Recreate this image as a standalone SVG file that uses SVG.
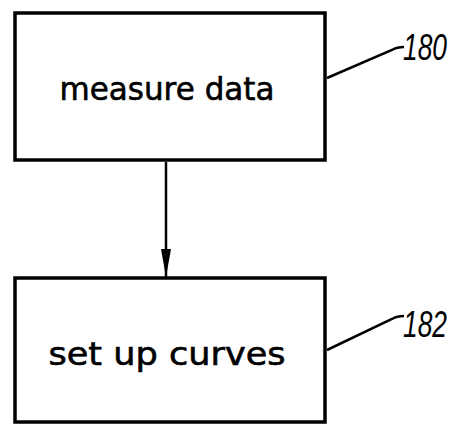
<svg xmlns="http://www.w3.org/2000/svg" width="464" height="424" viewBox="0 0 464 424">
<style>
.box{fill:#fff;stroke:#000;stroke-width:3.5}
.t{font-family:"DejaVu Sans",sans-serif;font-size:32px;fill:#000;stroke:#000;stroke-width:0.6}
.ref{font-family:"Liberation Sans",sans-serif;font-style:italic;font-size:36px;fill:#000}
.lead{fill:none;stroke:#000;stroke-width:2.5}
</style>
<defs>
<marker id="ah" markerWidth="30" markerHeight="12" refX="28" refY="6" orient="auto" markerUnits="userSpaceOnUse" viewBox="0 0 30 12">
<path d="M0,1 L28,6 L0,11 Z" fill="#000"/>
</marker>
</defs>
<rect width="464" height="424" fill="#fff"/>
<g id="node180">
<rect class="box" x="15" y="13" width="310" height="147"/>
<text class="t" x="167" y="100" text-anchor="middle" textLength="215" lengthAdjust="spacingAndGlyphs">measure data</text>
<path class="lead" d="M327,78 L392,50 Q397,47 404,47"/>
<text class="ref" x="403" y="60" textLength="44" lengthAdjust="spacingAndGlyphs">180</text>
</g>
<g id="node182">
<rect class="box" x="15" y="278" width="310" height="144"/>
<text class="t" x="167" y="365" text-anchor="middle" textLength="237" lengthAdjust="spacingAndGlyphs">set up curves</text>
<path class="lead" d="M327,350 L392,319 Q397,316 404,316"/>
<text class="ref" x="403" y="337" textLength="44" lengthAdjust="spacingAndGlyphs">182</text>
</g>
<g id="connectors">
<line x1="166" y1="162" x2="166" y2="277" stroke="#000" stroke-width="2.5" marker-end="url(#ah)"/>
</g>
</svg>
